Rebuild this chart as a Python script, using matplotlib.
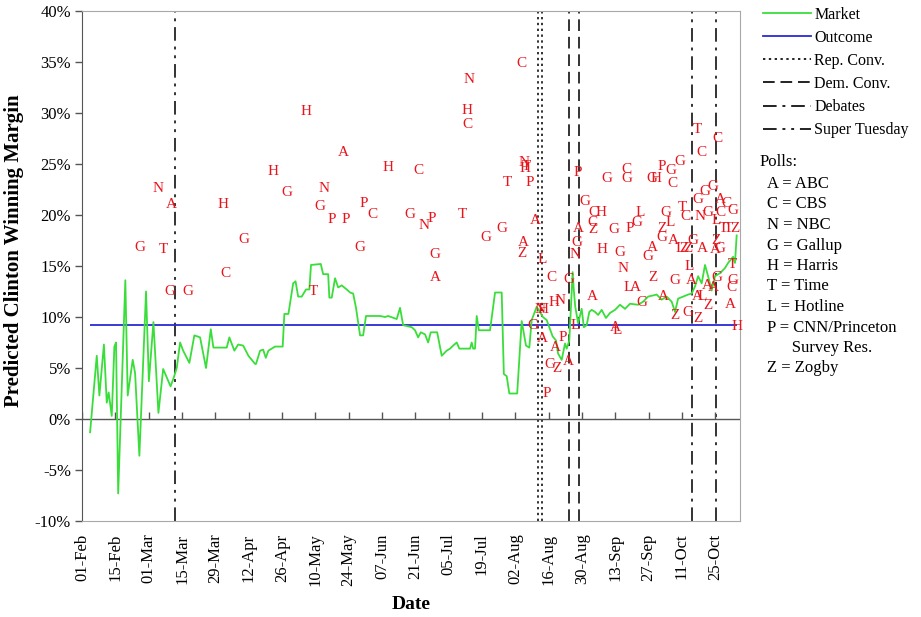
import matplotlib

matplotlib.use("Agg")
import matplotlib.pyplot as plt  # noqa: E402
from matplotlib.lines import Line2D  # noqa: E402
from matplotlib.ticker import FuncFormatter  # noqa: E402

# days are counted from 01-Feb; margins in percent
TICK_LABELS = [
    "01-Feb", "15-Feb", "01-Mar", "15-Mar", "29-Mar", "12-Apr", "26-Apr",
    "10-May", "24-May", "07-Jun", "21-Jun", "05-Jul", "19-Jul", "02-Aug",
    "16-Aug", "30-Aug", "13-Sep", "27-Sep", "11-Oct", "25-Oct",
]
TICK_DAYS = [14 * i for i in range(len(TICK_LABELS))]

MARKET_DAYS = [
    3.4, 6.2, 7.3, 9.2, 10.4, 11.2, 12.5, 13.6, 14.3, 15.2, 18.2, 19.2, 21.3,
    22.3, 24.1, 26.9, 28.1, 30.0, 32.1, 34.1, 37.2, 38.6, 39.8, 41.2, 42.5,
    45.1, 47.2, 49.6, 52.1, 54.1, 55.2, 60.8, 61.9, 64.0, 65.6, 67.7, 69.9,
    72.7, 73.1, 74.8, 76.1, 77.2, 78.3, 81.1, 84.3, 85.0, 86.7, 88.7, 89.7,
    90.8, 92.3, 94.1, 95.5, 96.2, 100.3, 101.3, 103.4, 103.9, 104.9, 106.3,
    107.6, 109.1, 111.2, 112.6, 113.9, 115.1, 116.8, 118.1, 119.3, 125.2,
    127.3, 128.6, 132.2, 133.6, 134.9, 138.5, 139.9, 141.2, 142.3, 144.1,
    145.4, 146.5, 149.2, 151.1, 153.2, 154.6, 155.9, 157.4, 158.5, 163.0,
    163.7, 164.3, 165.1, 165.8, 166.7, 171.4, 173.5, 176.3, 177.2, 178.4,
    179.5, 182.8, 184.7, 186.5, 187.9, 188.9, 191.0, 193.6, 195.2, 197.7,
    199.1, 200.0, 201.5, 202.9, 203.6, 204.7, 206.1, 206.6, 207.2, 208.4,
    209.9, 210.8, 212.0, 213.1, 214.1, 215.5, 216.8, 218.3, 220.1, 221.8,
    223.9, 226.0, 228.1, 230.2, 233.6, 235.7, 237.8, 241.4, 243.5, 245.6,
    247.7, 249.1, 250.4, 252.5, 254.6, 256.1, 257.5, 258.8, 260.3, 261.7,
    263.0, 264.5, 265.9, 268.0, 270.1, 271.4, 273.5, 274.3, 275.0,
]
MARKET_MARGIN = [
    -1.3, 6.2, 2.3, 7.3, 1.6, 2.6, 0.3, 7.1, 7.5, -7.3, 13.6, 2.3, 5.8,
    4.5, -3.6, 12.5, 3.7, 9.5, 0.6, 4.9, 3.2, 4.1, 5.0, 7.5, 6.7,
    5.5, 8.2, 8.0, 5.0, 8.8, 7.0, 7.0, 8.0, 6.7, 7.3, 7.2, 6.2,
    5.4, 5.4, 6.7, 6.8, 6.0, 6.7, 7.1, 7.1, 10.3, 10.3, 13.3, 13.5,
    12.0, 12.0, 12.7, 12.7, 15.1, 15.2, 14.2, 14.2, 11.9, 11.9, 13.8,
    12.9, 13.1, 12.7, 12.4, 12.3, 10.9, 8.2, 8.2, 10.1, 10.1,
    10.0, 10.1, 9.8, 10.9, 9.2, 9.0, 8.7, 8.0, 8.5, 8.3,
    7.5, 8.5, 8.5, 6.2, 6.7, 6.9, 7.2, 7.5, 6.9, 6.9,
    7.5, 6.9, 6.9, 10.1, 8.7, 8.7, 12.4, 12.4, 4.4, 4.2,
    2.5, 2.5, 9.6, 7.2, 7.0, 9.7, 11.0, 10.0, 9.7, 8.1,
    7.7, 6.4, 5.8, 7.4, 6.9, 7.7, 14.4, 12.6, 11.0, 9.4,
    10.8, 9.0, 9.2, 10.5, 10.7, 10.5, 10.2, 10.7, 9.9, 10.4,
    10.7, 11.2, 10.8, 11.3, 11.2, 11.5, 12.0, 12.2, 11.7, 12.0,
    11.5, 10.5, 11.8, 12.0, 12.2, 12.3, 13.0, 14.0, 13.3, 15.1,
    14.0, 12.6, 14.0, 14.3, 14.8, 15.3, 15.9, 15.3, 18.0,
]
OUTCOME = 9.2
OUTCOME_SPAN = (3.4, 275.0)

EVENTS = {
    "Rep. Conv.": [191.4, 193.1],
    "Dem. Conv.": [204.5, 208.7],
    "Debates": [256.2, 266.3],
    "Super Tuesday": [39.1],
}

POLL_FIRMS = (
    "NAGTGGCHGHGHTNGPPAPCGHCGNPGATNHCGGTCNTHPAAZLCHNNHGAPAGZAPGNGLPGACZCHHGA"
    "GGCGPGLNLALAGGHPGGCGZLGAAGZGAZTCNGCLTCCGGGACGTTZGLZZAZAGLAAAGTGCALZAGZH"
)
POLL_DAYS = [
    31.9, 37.4, 24.4, 34.0, 37.0, 44.5, 60.1, 59.2, 68.0, 80.2, 86.1, 94.1,
    97.0, 101.6, 100.0, 105.0, 110.9, 109.6, 118.4, 121.8, 116.8, 128.5,
    141.5, 137.8, 143.6, 147.0, 148.3, 148.3, 159.6, 162.5, 161.7, 161.7,
    169.7, 176.4, 178.5, 184.4, 185.6, 186.5, 186.1, 188.2, 190.3, 185.2,
    184.8, 193.2, 197.4, 198.2, 200.8, 192.4, 193.6, 189.4, 193.2, 202.0,
    198.7, 196.6, 199.5, 204.1, 195.3, 207.9, 207.1, 204.5, 207.1, 208.3,
    211.3, 208.7, 214.6, 214.6, 215.0, 218.0, 218.4, 226.0, 214.2,
    220.5, 228.9, 228.5, 223.5, 230.2, 233.1, 234.4, 227.2, 229.3, 232.3,
    224.7, 223.9, 235.2, 239.4, 241.1, 243.6, 247.4, 251.2, 248.2, 245.3,
    243.6, 247.0, 243.6, 248.2, 239.4, 237.7, 239.8, 249.1, 244.0, 249.1,
    252.0, 253.3, 259.6, 262.9, 268.0, 266.3, 258.3, 267.1, 260.4, 258.7,
    261.7, 265.0, 268.0, 270.9, 273.4, 269.6, 271.7, 274.3, 256.6, 251.2,
    252.9, 254.5, 260.4, 266.3, 265.9, 268.0, 255.0, 255.8, 262.5, 265.0,
    266.7, 273.0, 273.4, 272.6, 258.3, 260.4, 262.9, 272.2, 254.5, 258.7,
    275.1,
]
POLL_MARGIN = [
    22.6, 21.0, 16.8, 16.6, 12.5, 12.5, 14.3, 21.0, 17.6, 24.3, 22.2, 30.1,
    12.5, 22.6, 20.8, 19.6, 19.6, 26.1, 21.1, 20.0, 16.8, 24.7,
    24.4, 20.0, 19.0, 19.7, 16.1, 13.9, 20.0, 33.3, 30.2, 28.9,
    17.8, 18.7, 23.2, 34.9, 25.1, 24.8, 24.6, 23.2, 19.5, 17.3,
    16.2, 15.6, 13.9, 11.4, 11.6, 10.7, 10.7, 9.2, 7.9, 8.0,
    7.0, 5.3, 5.0, 5.6, 2.5, 17.3, 16.1, 13.7, 9.2, 24.2,
    21.3, 18.7, 19.3, 18.6, 20.2, 20.2, 16.6, 16.3, 12.0,
    23.6, 23.6, 24.5, 18.6, 18.7, 19.3, 20.2, 14.8, 12.9, 12.9,
    8.7, 9.0, 11.4, 23.6, 23.6, 24.8, 24.4, 25.2, 23.1, 20.2,
    18.7, 19.3, 17.8, 17.5, 16.8, 15.9, 13.9, 13.6, 12.0, 10.1,
    20.7, 19.9, 19.9, 20.2, 20.2, 19.5, 28.4, 27.5, 26.1, 21.5,
    22.3, 22.8, 21.5, 21.1, 20.4, 18.7, 18.7, 18.7, 17.5, 16.7,
    16.7, 16.7, 16.7, 17.5, 16.6, 16.7, 15.0, 13.6, 13.1, 12.9,
    13.9, 15.1, 13.6, 12.9, 12.0, 12.0, 11.1, 11.2, 10.4, 9.9,
    9.1,
]

POLL_KEY = [
    "A = ABC", "C = CBS", "N = NBC", "G = Gallup", "H = Harris", "T = Time",
    "L = Hotline", "P = CNN/Princeton", "      Survey Res.", "Z = Zogby",
]

GREEN = "#3ade3a"
BLUE = "#2a2ad6"
RED = "#e8141c"
STYLES = {
    "Rep. Conv.": (0, (1.2, 1.8)),
    "Dem. Conv.": (0, (6, 3)),
    "Debates": (0, (7, 3, 1.5, 3)),
    "Super Tuesday": (0, (7, 3, 1.5, 3, 1.5, 3)),
}

plt.rcParams["font.family"] = ["Liberation Serif", "DejaVu Serif"]

fig = plt.figure(figsize=(9.21, 6.17), dpi=100)
ax = fig.add_axes([82 / 921, 1 - 521 / 617, 658 / 921, 510 / 617])

for name, days in EVENTS.items():
    for d in days:
        ax.axvline(d, color="#333333", lw=1.4, linestyle=STYLES[name], zorder=1)

ax.axhline(0, color="#555555", lw=1.0, zorder=2)
ax.vlines(TICK_DAYS, 0, 0.65, color="#555555", lw=1.0, zorder=2)
ax.hlines(OUTCOME, *OUTCOME_SPAN, color=BLUE, lw=1.3, zorder=3)
ax.plot(MARKET_DAYS, MARKET_MARGIN, color=GREEN, lw=1.3, zorder=4)

for firm, d, m in zip(POLL_FIRMS, POLL_DAYS, POLL_MARGIN):
    ax.text(d, m, firm, color=RED, fontsize=11, ha="center", va="center",
            zorder=5, clip_on=False)

ax.set_xlim(0, 276.4)
ax.set_ylim(-10, 40)
ax.set_yticks(range(-10, 41, 5))
ax.yaxis.set_major_formatter(FuncFormatter(lambda v, _: f"{v:.0f}%"))
ax.set_xticks(TICK_DAYS)
ax.set_xticklabels(TICK_LABELS, rotation=90)
ax.tick_params(axis="x", length=0, pad=9, labelsize=12)
ax.tick_params(axis="y", length=5, width=1, color="#555555", labelsize=12, pad=3)
for side in ["top", "right", "bottom"]:
    ax.spines[side].set_color("#a8a8a8")
ax.spines["left"].set_color("#555555")
ax.set_ylabel("Predicted Clinton Winning Margin", fontsize=15, fontweight="bold")
ax.yaxis.set_label_coords(-0.088, 0.53)
ax.set_xlabel("Date", fontsize=14, fontweight="bold")
ax.xaxis.set_label_coords(0.5, -0.148)

handles = [
    Line2D([], [], color=GREEN, lw=1.3, label="Market"),
    Line2D([], [], color=BLUE, lw=1.3, label="Outcome"),
]
for name in ["Rep. Conv.", "Dem. Conv.", "Debates", "Super Tuesday"]:
    handles.append(Line2D([], [], color="#222222", lw=1.4,
                          linestyle=STYLES[name], label=name))
fig.legend(handles=handles, loc="upper left", bbox_to_anchor=(763 / 921, 1 - 7 / 617),
           frameon=False, fontsize=11.5, handlelength=3.0, handletextpad=0.2,
           labelspacing=0.44, borderaxespad=0, borderpad=0)

fig.text(760 / 921, 1 - 162 / 617, "Polls:", fontsize=12, va="center")
for i, line in enumerate(POLL_KEY):
    fig.text(767 / 921, 1 - (184 + 20.5 * i) / 617, line, fontsize=12, va="center")

fig.savefig("out.png", dpi=100)
